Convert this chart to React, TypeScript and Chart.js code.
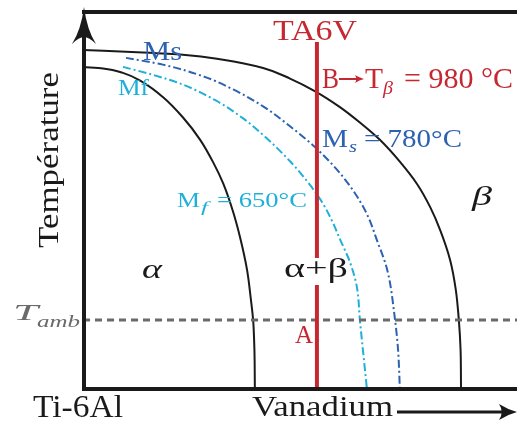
import React, { useEffect, useRef } from "react";
import { Chart, registerables } from "chart.js";

Chart.register(...registerables);

// ---- data (arbitrary composition / temperature units, 0..100) ----
const betaTransus: [number, number][] = [
  [0, 89.9], [13.8, 89.2], [23.0, 88.6], [32.3, 87.3], [41.5, 85.1], [47.7, 82.3],
  [53.5, 78.9], [59.2, 74.7], [63.8, 70.6], [68.4, 66.0], [73.0, 60.2], [77.0, 54.2],
  [80.0, 48.1], [82.3, 42.0], [84.6, 34.0], [85.9, 26.1], [86.6, 18.1], [87.0, 10.1], [87.1, 0],
];
const alphaBoundary: [number, number][] = [
  [0, 85.4], [4.6, 85.0], [9.2, 83.8], [13.8, 81.3], [18.4, 77.4], [23.0, 72.0],
  [27.0, 66.0], [30.0, 60.0], [32.3, 54.4], [34.6, 46.8], [36.2, 40.0], [37.8, 31.4],
  [38.7, 23.4], [39.2, 18.1], [39.5, 10.1], [39.6, 0],
];
const msCurve: [number, number][] = [
  [9.9, 87.8], [18.4, 86.0], [27.7, 82.9], [34.6, 79.4], [41.5, 74.9], [47.7, 69.6],
  [53.5, 64.0], [58.1, 58.6], [62.2, 52.6], [65.4, 46.3], [67.7, 39.4], [70.1, 31.4],
  [71.9, 18.1], [72.6, 10.1], [73.0, 0],
];
const mfCurve: [number, number][] = [
  [9.2, 85.4], [16.1, 83.3], [23.0, 80.7], [30.7, 76.4], [36.9, 71.7], [41.5, 67.3],
  [47.7, 60.3], [52.3, 54.0], [55.1, 49.4], [57.4, 44.4], [59.2, 39.6], [61.5, 33.5],
  [63.1, 26.9], [63.8, 18.1], [64.5, 10.1], [65.4, 0],
];
const ta6vX = 53.9;
const ta6vTop = 92;
const tambY = 18.1;
const xMin = 0, xMax = 100, yMin = 0, yMax = 100;

const RED = "#c62832";
const BLUE = "#2d62b0";
const CYAN = "#1fb0d8";
const GRAY = "#6a6a6a";
const INK = "#1a1a1a";
const FONT = '"Liberation Serif", "Times New Roman", serif';

const pts = (a: [number, number][]) => a.map(([x, y]) => ({ x, y }));

function txt(
  ctx: CanvasRenderingContext2D, s: string, x: number, y: number, size: number,
  color: string, o: { italic?: boolean; width?: number; rotate?: number; center?: boolean } = {}
) {
  ctx.save();
  ctx.font = `${o.italic ? "italic " : ""}${size}px ${FONT}`;
  const w = ctx.measureText(s).width;
  const sx = o.width ? o.width / w : 1;
  ctx.translate(x, y);
  if (o.rotate) ctx.rotate(o.rotate);
  ctx.scale(sx, 1);
  ctx.textBaseline = "alphabetic";
  ctx.textAlign = "left";
  ctx.fillStyle = color;
  ctx.fillText(s, o.center ? -w / 2 : 0, 0);
  ctx.restore();
}

function hArrow(ctx: CanvasRenderingContext2D, x0: number, x1: number, y: number, lw: number, hl: number, hh: number, color: string) {
  ctx.save();
  ctx.strokeStyle = color;
  ctx.fillStyle = color;
  ctx.lineWidth = lw;
  ctx.beginPath();
  ctx.moveTo(x0, y);
  ctx.lineTo(x1 - hl * 0.6, y);
  ctx.stroke();
  ctx.beginPath();
  ctx.moveTo(x1, y);
  ctx.quadraticCurveTo(x1 - hl * 0.5, y - hh * 0.3, x1 - hl, y - hh);
  ctx.quadraticCurveTo(x1 - hl * 0.7, y, x1 - hl, y + hh);
  ctx.quadraticCurveTo(x1 - hl * 0.5, y + hh * 0.3, x1, y);
  ctx.fill();
  ctx.restore();
}

const decor = {
  id: "decor",
  afterDatasetsDraw(chart: any) {
    const ctx: CanvasRenderingContext2D = chart.ctx;
    const { left, top, right, bottom } = chart.chartArea;
    const xs = chart.scales.x;
    const rx = xs.getPixelForValue(ta6vX);

    // frame
    ctx.save();
    ctx.strokeStyle = INK;
    ctx.lineWidth = 4;
    ctx.beginPath();
    ctx.moveTo(left - 1, top);
    ctx.lineTo(right, top);
    ctx.moveTo(left - 1, bottom + 1);
    ctx.lineTo(right, bottom + 1);
    ctx.moveTo(left + 1, bottom + 3);
    ctx.lineTo(left + 1, top + 24);
    ctx.stroke();
    const ax = left + 1;
    ctx.fillStyle = INK;
    ctx.beginPath();
    ctx.moveTo(ax, top - 5);
    ctx.quadraticCurveTo(ax + 3, top + 18, ax + 12, top + 32);
    ctx.quadraticCurveTo(ax + 5, top + 25, ax, top + 25);
    ctx.quadraticCurveTo(ax - 5, top + 25, ax - 12, top + 32);
    ctx.quadraticCurveTo(ax - 3, top + 18, ax, top - 5);
    ctx.fill();
    ctx.restore();

    // white gap in red line behind alpha+beta
    ctx.save();
    ctx.fillStyle = "#ffffff";
    ctx.fillRect(rx - 4, 258, 8, 27);
    ctx.restore();

    // labels
    txt(ctx, "Température", 58, 160, 30, INK, { rotate: -Math.PI / 2, width: 176, center: true });
    txt(ctx, "Ti-6Al", 33, 417, 31, INK, { width: 90 });
    txt(ctx, "Vanadium", 252, 416, 29, INK, { width: 141 });
    hArrow(ctx, 397, 517, 412, 3, 18, 8, INK);

    txt(ctx, "TA6V", 273, 40, 30, RED, { width: 84 });
    txt(ctx, "B", 322, 88, 29, RED, { width: 17 });
    hArrow(ctx, 339, 364, 79, 2, 9, 4, RED);
    txt(ctx, "T", 365, 88, 29, RED, { width: 18 });
    txt(ctx, "β", 383, 94, 19, RED, { italic: true, width: 10 });
    txt(ctx, "= 980 °C", 404, 88, 29, RED, { width: 109 });

    txt(ctx, "M", 322, 147, 25, BLUE, { width: 26 });
    txt(ctx, "s", 349, 152, 17, BLUE, { italic: true, width: 8 });
    txt(ctx, "= 780°C", 364, 147, 25, BLUE, { width: 98 });

    txt(ctx, "M", 177, 207, 22, CYAN, { width: 23 });
    txt(ctx, "f", 201, 212, 15, CYAN, { italic: true, width: 7 });
    txt(ctx, "= 650°C", 217, 207, 22, CYAN, { width: 90 });

    txt(ctx, "Ms", 143, 60, 28, BLUE, { width: 39 });
    txt(ctx, "Mf", 118, 95, 23, CYAN, { width: 31 });

    txt(ctx, "β", 472, 205, 28, INK, { italic: true, width: 20 });
    txt(ctx, "α", 142, 278, 28, INK, { italic: true, width: 20 });
    txt(ctx, "α+β", 284, 277, 28, INK, { width: 64 });
    txt(ctx, "A", 295, 343, 25, RED, { width: 18 });

    txt(ctx, "T", 13, 320, 23, GRAY, { italic: true, width: 25 });
    txt(ctx, "amb", 37, 327, 17, GRAY, { italic: true, width: 43 });
  },
};

export default function App() {
  const ref = useRef<HTMLCanvasElement>(null);
  useEffect(() => {
    if (!ref.current) return;
    const curve = { showLine: true, pointRadius: 0, fill: false, indexAxis: "y", cubicInterpolationMode: "monotone", borderCapStyle: "butt" };
    const straight = { showLine: true, pointRadius: 0, fill: false, tension: 0, borderCapStyle: "butt" };
    const chart = new Chart(ref.current, {
      type: "scatter",
      data: {
        datasets: [
          { ...straight, label: "TA6V", data: [{ x: ta6vX, y: yMin }, { x: ta6vX, y: ta6vTop }], borderColor: RED, borderWidth: 4, order: 0 },
          { ...curve, label: "Tβ", data: pts(betaTransus), borderColor: INK, borderWidth: 2, order: 2 },
          { ...curve, label: "α", data: pts(alphaBoundary), borderColor: INK, borderWidth: 2, order: 2 },
          { ...curve, label: "Ms", data: pts(msCurve), borderColor: BLUE, borderWidth: 2, borderDash: [8, 3, 2, 3], order: 3 },
          { ...curve, label: "Mf", data: pts(mfCurve), borderColor: CYAN, borderWidth: 2, borderDash: [8, 3, 2, 3], order: 3 },
          { ...straight, label: "Tamb", data: [{ x: xMin, y: tambY }, { x: xMax, y: tambY }], borderColor: GRAY, borderWidth: 3, borderDash: [7, 5], order: 1 },
        ] as any,
      },
      options: {
        responsive: false,
        animation: false,
        devicePixelRatio: 1,
        layout: { padding: { left: 83, right: 0, top: 12, bottom: 39 } },
        scales: {
          x: { type: "linear", min: xMin, max: xMax, display: false },
          y: { type: "linear", min: yMin, max: yMax, display: false },
        },
        plugins: { legend: { display: false }, tooltip: { enabled: false } },
        events: [],
      },
      plugins: [decor],
    });
    return () => chart.destroy();
  }, []);
  return (
    <div style={{ position: "absolute", left: 0, top: 0, width: 517, height: 427, background: "#fff" }}>
      <canvas ref={ref} width={517} height={427} />
    </div>
  );
}
